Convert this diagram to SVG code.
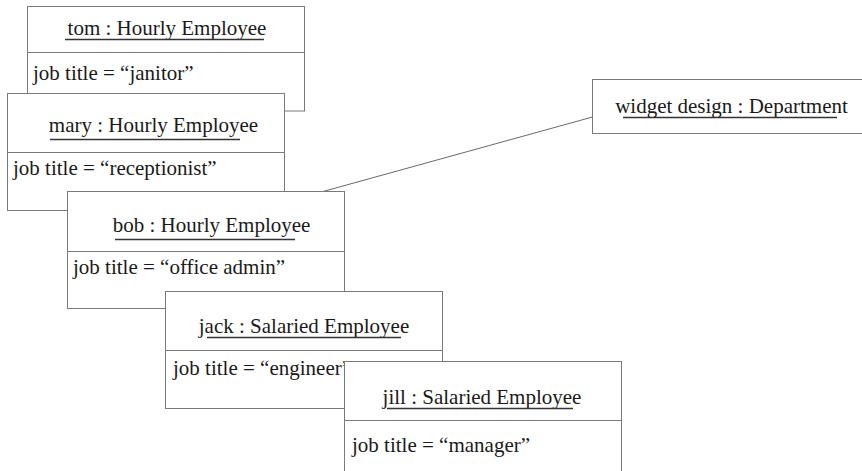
<svg xmlns="http://www.w3.org/2000/svg" width="862" height="471" viewBox="0 0 862 471">
<style>
.box{fill:#fff;stroke:#7a7a7a;stroke-width:1}
.sep{stroke:#7a7a7a;stroke-width:1}
.ul{stroke:#333;stroke-width:1.3}
.t{font-family:"Liberation Serif","Times New Roman",serif;font-size:21px;fill:#1a1a1a}
.c{text-anchor:middle}
.conn{stroke:#6a6a6a;stroke-width:1;fill:none}
</style>
<rect width="862" height="471" fill="#fff"/>
<g id="connectors">
<line class="conn" x1="323" y1="191.5" x2="592.5" y2="117"/>
</g>
<g id="tom">
<rect class="box" x="27.5" y="6.5" width="277" height="104.5"/>
<line class="sep" x1="27.5" y1="52.5" x2="304.5" y2="52.5"/>
<text class="t c" x="167" y="35">tom : Hourly Employee</text>
<line class="ul" x1="65" y1="39.5" x2="264" y2="39.5"/>
<text class="t" x="33" y="80">job title = “janitor”</text>
</g>
<g id="mary">
<rect class="box" x="7.5" y="93.5" width="277" height="117"/>
<line class="sep" x1="7.5" y1="152.5" x2="284.5" y2="152.5"/>
<text class="t c" x="153.5" y="132">mary : Hourly Employee</text>
<line class="ul" x1="50" y1="139.5" x2="240" y2="139.5"/>
<text class="t" x="13" y="175">job title = “receptionist”</text>
</g>
<g id="bob">
<rect class="box" x="67.5" y="191.5" width="277" height="117"/>
<line class="sep" x1="67.5" y1="251.5" x2="344.5" y2="251.5"/>
<text class="t c" x="211.5" y="232">bob : Hourly Employee</text>
<line class="ul" x1="115" y1="239.5" x2="295" y2="239.5"/>
<text class="t" x="73" y="274">job title = “office admin”</text>
</g>
<g id="jack">
<rect class="box" x="165.5" y="291.5" width="277" height="117"/>
<line class="sep" x1="165.5" y1="350.5" x2="442.5" y2="350.5"/>
<text class="t c" x="304" y="333">jack : Salaried Employee</text>
<line class="ul" x1="207" y1="337.5" x2="401" y2="337.5"/>
<text class="t" x="173" y="375">job title = “engineer”</text>
</g>
<g id="jill">
<rect class="box" x="344.5" y="361.5" width="277" height="120"/>
<line class="sep" x1="344.5" y1="420.5" x2="621.5" y2="420.5"/>
<text class="t c" x="482" y="404">jill : Salaried Employee</text>
<line class="ul" x1="387" y1="408.5" x2="573" y2="408.5"/>
<text class="t" x="352" y="452">job title = “manager”</text>
</g>
<g id="widget-design">
<rect class="box" x="592.5" y="79.5" width="275" height="54"/>
<text class="t c" x="731.5" y="113">widget design : Department</text>
<line class="ul" x1="623" y1="117.5" x2="837" y2="117.5"/>
</g>
</svg>
